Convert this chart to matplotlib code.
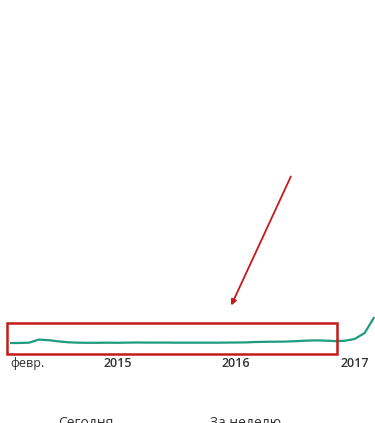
import numpy as np
import pandas as pd
import matplotlib
matplotlib.use('Agg')
import matplotlib.pyplot as plt
import matplotlib.dates as mdates
from matplotlib.patches import Rectangle

plt.rcParams['font.family'] = ['Open Sans', 'DejaVu Sans']

# monthly values, Feb 2014 .. Mar 2017
months = pd.date_range('2014-02-01', '2017-03-01', freq='MS')
values = [0, 0, 0.3, 3.4, 2.8, 1.6, 0.7, 0.3, 0.2, 0.2, 0.3,
          0.2, 0.4, 0.5, 0.4, 0.4, 0.4, 0.3, 0.3, 0.3, 0.3, 0.3, 0.4,
          0.5, 0.6, 1.0, 1.2, 1.3, 1.4, 1.8, 2.3, 2.6, 2.4, 1.9, 2.2,
          4.0, 10, 25]
tick_dates = ['2014-02-01', '2015-01-01', '2016-01-01', '2017-01-01']
tick_labels = ['февр.', '2015', '2016', '2017']
bottom_labels = ['Сегодня', 'За неделю']

W, H = 375, 423
fig = plt.figure(figsize=(W / 100, H / 100), dpi=100)
# axes: left at x=10px, bottom at y=353px (from top)
ax = fig.add_axes([10 / W, (H - 353) / H, 1 - 10 / W, 353 / H])
ax.plot(months, values, color='#1f9c80', lw=1.6, clip_on=True)
ax.set_xlim(pd.Timestamp('2014-02-01'), pd.Timestamp('2017-03-05'))
ax.set_ylim(-10, 343)
for s in ax.spines.values():
    s.set_visible(False)
ax.set_yticks([])
ax.set_xticks([mdates.date2num(pd.Timestamp(d)) for d in tick_dates])
ax.set_xticklabels(tick_labels)
ax.tick_params(axis='x', length=0, pad=3, labelsize=9, colors='#333333')
lbls = ax.get_xticklabels()
lbls[0].set_ha('left')
for l in lbls[1:]:
    l.set_fontweight('semibold')

# red highlight box and arrow (figure pixels)
fig.add_artist(Rectangle((7 / W, (H - 354) / H), 330 / W, 31 / H,
                         transform=fig.transFigure, fill=False,
                         edgecolor='#c41a1a', lw=1.8))
ax.annotate('', xy=(230, H - 308), xytext=(292, H - 174),
            xycoords='figure pixels', textcoords='figure pixels',
            arrowprops=dict(arrowstyle='-|>', color='#c41a1a', lw=1.3,
                            mutation_scale=8))

fig.text(58 / W, (H - 416) / H, bottom_labels[0], fontsize=10,
         color='#333333', va='top')
fig.text(210 / W, (H - 416) / H, bottom_labels[1], fontsize=10,
         color='#333333', va='top')

fig.savefig('out.png', dpi=100)
